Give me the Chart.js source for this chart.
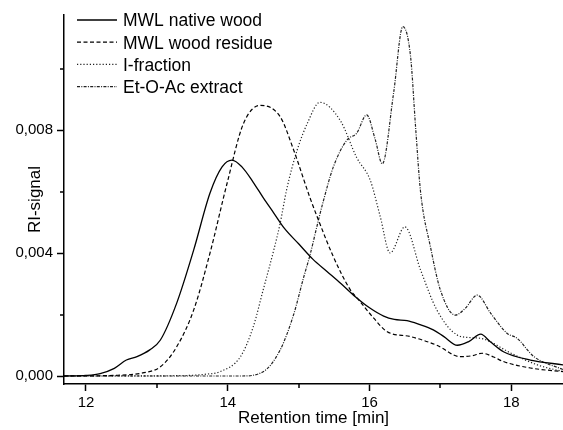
<!DOCTYPE html>
<html>
<head>
<meta charset="utf-8">
<script src="https://cdn.jsdelivr.net/npm/chart.js@4.4.0/dist/chart.umd.min.js"></script>
<style>
  html, body { margin: 0; padding: 0; background: #fff; }
  #wrap { width: 563px; height: 430px; }
</style>
</head>
<body>
<div id="wrap"><canvas id="chart"></canvas></div>
<script>
// Retention times [min] and RI-signal
const nativeTime   = [11.69, 12.0, 12.2, 12.4, 12.57, 12.72, 12.9, 13.05, 13.28, 13.52, 13.75, 13.92, 14.06, 14.2, 14.36, 14.5, 14.65, 14.8, 15.0, 15.2, 15.4, 15.6, 15.8, 16.0, 16.2, 16.35, 16.53, 16.7, 16.9, 17.05, 17.24, 17.4, 17.57, 17.7, 17.89, 18.27, 18.74];
const nativeSignal = [0, 0.00002, 0.00008, 0.00025, 0.00052, 0.00063, 0.00085, 0.00117, 0.00237, 0.0041, 0.00595, 0.0068, 0.00702, 0.0068, 0.0063, 0.0058, 0.0053, 0.0048, 0.0043, 0.0038, 0.0034, 0.003, 0.00258, 0.00222, 0.00195, 0.00184, 0.0018, 0.00168, 0.0015, 0.00128, 0.001, 0.00112, 0.00136, 0.00112, 0.00079, 0.00052, 0.00036];

const residueTime   = [11.69, 12.4, 12.8, 13.05, 13.28, 13.52, 13.75, 13.99, 14.22, 14.46, 14.74, 14.93, 15.16, 15.28, 15.49, 15.73, 15.85, 16.06, 16.25, 16.58, 16.95, 17.28, 17.45, 17.59, 17.75, 17.89, 18.27, 18.74];
const residueSignal = [0, 0.00002, 0.0001, 0.0003, 0.00095, 0.00215, 0.004, 0.00626, 0.0082, 0.0088, 0.00843, 0.00735, 0.0058, 0.00507, 0.00388, 0.0028, 0.00247, 0.00188, 0.00144, 0.00128, 0.001, 0.00063, 0.00066, 0.00074, 0.00062, 0.00047, 0.00026, 0.00014];

const iFracTime   = [11.69, 13.3, 13.7, 13.89, 14.18, 14.36, 14.5, 14.65, 14.74, 14.83, 14.98, 15.12, 15.3, 15.59, 15.82, 16.01, 16.15, 16.29, 16.5, 16.72, 16.95, 17.24, 17.42, 17.6, 17.99, 18.37, 18.74];
const iFracSignal = [0, 0.00001, 0.00006, 0.00014, 0.00063, 0.0016, 0.0028, 0.0041, 0.00497, 0.00605, 0.00735, 0.0082, 0.0089, 0.0083, 0.0071, 0.00637, 0.0052, 0.004, 0.00485, 0.00345, 0.00215, 0.00133, 0.00125, 0.00121, 0.00075, 0.00036, 0.00014];

const etoacTime   = [11.69, 14.18, 14.5, 14.74, 14.93, 15.07, 15.16, 15.28, 15.35, 15.49, 15.68, 15.82, 15.96, 16.08, 16.18, 16.34, 16.47, 16.58, 16.65, 16.72, 16.86, 17.0, 17.21, 17.35, 17.52, 17.71, 17.94, 18.08, 18.32, 18.74];
const etoacSignal = [0, 0, 0.00014, 0.00085, 0.002, 0.0032, 0.00393, 0.00507, 0.0057, 0.0068, 0.00767, 0.0079, 0.00849, 0.0077, 0.0069, 0.0092, 0.01136, 0.01038, 0.0081, 0.006, 0.0042, 0.0028, 0.00198, 0.0022, 0.00263, 0.00204, 0.00139, 0.00123, 0.00063, 0.0002];

const seriesLabels = ['MWL native wood', 'MWL wood residue', 'I-fraction', 'Et-O-Ac extract'];

const majorXTicks = [12, 14, 16, 18];
const minorXTicks = [13, 15, 17];
const majorYTicks = [0, 0.004, 0.008];
const minorYTicks = [0.002, 0.006, 0.010];

const FONT = "'Liberation Sans', Arial, sans-serif";

function points(xs, ys) {
    return xs.map((x, i) => ({ x: x, y: ys[i] }));
}

function series(label, xs, ys, dash, color, width) {
    return {
        label: label,
        data: points(xs, ys),
        borderColor: color,
        borderWidth: width,
        borderDash: dash,
        pointRadius: 0,
        fill: false,
        cubicInterpolationMode: 'monotone'
    };
}

// legend drawn inside the plot, top left, like the original
const insideLegend = {
    id: 'insideLegend',
    afterDraw(chart) {
        const ctx = chart.ctx;
        ctx.save();
        chart.data.datasets.forEach((ds, i) => {
            const y = 20 + i * 22.2;
            ctx.beginPath();
            ctx.setLineDash(ds.borderDash || []);
            ctx.strokeStyle = ds.borderColor;
            ctx.lineWidth = ds.borderWidth;
            ctx.moveTo(77, y);
            ctx.lineTo(117, y);
            ctx.stroke();
            ctx.setLineDash([]);
            ctx.fillStyle = '#000';
            ctx.font = '17.5px ' + FONT;
            ctx.textBaseline = 'alphabetic';
            ctx.textAlign = 'left';
            ctx.fillText(ds.label, 123, y + 6.3);
        });
        ctx.restore();
    }
};

// short minor tick marks on both axes
const minorTicks = {
    id: 'minorTicks',
    afterDraw(chart) {
        const ctx = chart.ctx;
        const xs = chart.scales.x, ys = chart.scales.y;
        const area = chart.chartArea;
        ctx.save();
        ctx.strokeStyle = '#000';
        ctx.lineWidth = 1.5;
        ctx.beginPath();
        minorXTicks.forEach(v => {
            const px = Math.round(xs.getPixelForValue(v));
            ctx.moveTo(px, area.bottom);
            ctx.lineTo(px, area.bottom + 4);
        });
        minorYTicks.forEach(v => {
            const py = Math.round(ys.getPixelForValue(v));
            ctx.moveTo(area.left, py);
            ctx.lineTo(area.left - 4, py);
        });
        ctx.stroke();
        ctx.restore();
    }
};

new Chart(document.getElementById('chart'), {
    type: 'line',
    data: {
        datasets: [
            series(seriesLabels[0], nativeTime, nativeSignal, [], '#000', 1.3),
            series(seriesLabels[1], residueTime, residueSignal, [4, 2.5], '#000', 1.2),
            series(seriesLabels[2], iFracTime, iFracSignal, [1.2, 2], '#222', 1.2),
            series(seriesLabels[3], etoacTime, etoacSignal, [3, 1.3, 1, 1.3], '#222', 1.2)
        ]
    },
    options: {
        responsive: true,
        maintainAspectRatio: false,
        animation: false,
        layout: { padding: { top: 15, right: 0, left: 0, bottom: 0 } },
        plugins: {
            legend: { display: false },
            tooltip: { enabled: false }
        },
        scales: {
            x: {
                type: 'linear',
                min: 11.69,
                max: 18.73,
                afterBuildTicks: scale => { scale.ticks = majorXTicks.map(v => ({ value: v })); },
                afterFit: scale => { scale.height = 46; },
                border: { display: true, color: '#000', width: 1.5 },
                grid: { drawOnChartArea: false, drawTicks: true, tickLength: 7, color: '#000', tickWidth: 1.5 },
                ticks: {
                    color: '#000',
                    padding: 3,
                    maxRotation: 0,
                    font: { family: FONT, size: 15 },
                    callback: v => String(v)
                },
                title: {
                    display: true,
                    text: 'Retention time [min]',
                    color: '#000',
                    font: { family: FONT, size: 17 },
                    padding: { top: 0, bottom: 1 }
                }
            },
            y: {
                min: -0.00026,
                max: 0.01174,
                afterBuildTicks: scale => { scale.ticks = majorYTicks.map(v => ({ value: v })); },
                afterFit: scale => { scale.width = 64; },
                border: { display: true, color: '#000', width: 1.5 },
                grid: { drawOnChartArea: false, drawTicks: true, tickLength: 7, color: '#000', tickWidth: 1.5 },
                ticks: {
                    color: '#000',
                    padding: 4,
                    font: { family: FONT, size: 15 },
                    callback: v => v.toFixed(3).replace('.', ',')
                },
                title: {
                    display: true,
                    text: 'RI-signal',
                    color: '#000',
                    font: { family: FONT, size: 17 },
                    padding: { top: 25, bottom: 0 }
                }
            }
        }
    },
    plugins: [insideLegend, minorTicks]
});
</script>
</body>
</html>
